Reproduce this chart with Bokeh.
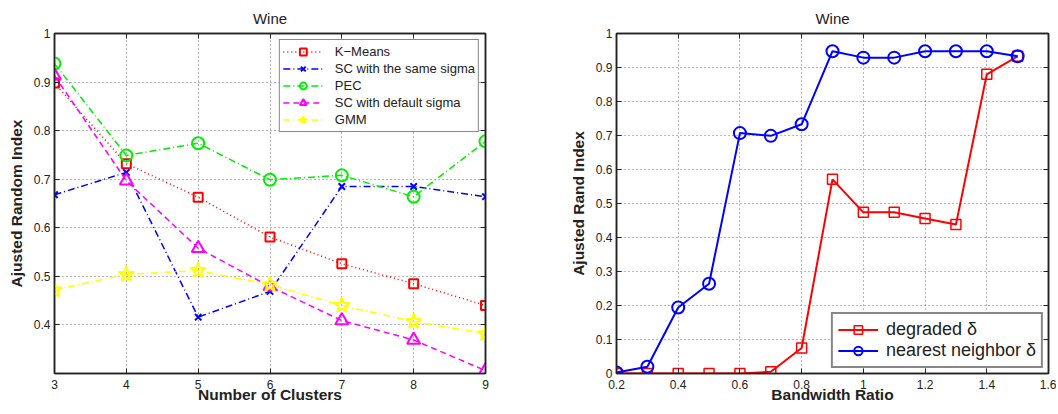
from bokeh.plotting import figure
from bokeh.layouts import row
from bokeh.models import FixedTicker, LinearAxis, Legend, LegendItem, Range1d
from bokeh.embed import file_html
from bokeh.resources import INLINE

# ---------------- data ----------------
clusters = [3, 4, 5, 6, 7, 8, 9]
kmeans = [0.898, 0.732, 0.663, 0.581, 0.526, 0.485, 0.440]
sc_same = [0.668, 0.714, 0.416, 0.469, 0.685, 0.685, 0.664]
pec = [0.938, 0.749, 0.774, 0.699, 0.708, 0.664, 0.778]
sc_default = [0.913, 0.697, 0.558, 0.479, 0.409, 0.369, 0.306]
gmm = [0.472, 0.504, 0.512, 0.483, 0.440, 0.407, 0.382]

bandwidth = [0.2, 0.3, 0.4, 0.5, 0.6, 0.7, 0.8, 0.9, 1.0, 1.1, 1.2, 1.3, 1.4, 1.5]
degraded = [0.0, 0.0, 0.0, 0.0, 0.0, 0.005, 0.075, 0.571, 0.474, 0.474, 0.456, 0.438, 0.880, 0.933]
nearest = [0.003, 0.020, 0.194, 0.264, 0.707, 0.699, 0.733, 0.948, 0.929, 0.929, 0.948, 0.948, 0.948, 0.933]

left_xticks = [3, 4, 5, 6, 7, 8, 9]
left_yticks = [0.4, 0.5, 0.6, 0.7, 0.8, 0.9, 1.0]
right_xticks = [0.2, 0.4, 0.6, 0.8, 1.0, 1.2, 1.4, 1.6]
right_yticks = [0.0, 0.1, 0.2, 0.3, 0.4, 0.5, 0.6, 0.7, 0.8, 0.9, 1.0]
titles = ["Wine", "Wine"]

FONT = "Liberation Sans"
INK = "#222222"


def fmt(v):
    return "%g" % round(v, 4)


def style(p, title, xticks, yticks, xlabel, ylabel):
    p.title.text = title
    p.title.align = "center"
    p.title.vertical_align = "middle"
    p.title.text_font = FONT
    p.title.text_font_style = "normal"
    p.title.text_font_size = "15px"
    p.title.text_color = INK
    p.title.standoff = 12
    p.outline_line_color = INK
    p.outline_line_width = 1.5
    for ax, ticks in ((p.xaxis[0], xticks), (p.yaxis[0], yticks)):
        ax.ticker = FixedTicker(ticks=ticks)
        ax.major_label_overrides = {t: fmt(t) for t in ticks}
        ax.major_label_text_font = FONT
        ax.major_label_text_font_size = "12px"
        ax.major_label_text_color = INK
        ax.major_tick_in = 5
        ax.major_tick_out = 0
        ax.minor_tick_line_color = None
        ax.axis_line_color = INK
        ax.axis_line_width = 1.5
        ax.major_tick_line_color = INK
        ax.axis_label_text_font = FONT
        ax.axis_label_text_font_style = "bold"
        ax.axis_label_text_font_size = "15.5px"
        ax.axis_label_text_color = INK
    p.xaxis[0].axis_label = xlabel
    p.yaxis[0].axis_label = ylabel
    p.xaxis[0].major_label_standoff = 6
    p.yaxis[0].major_label_standoff = 4
    p.xaxis[0].axis_label_standoff = -6
    p.yaxis[0].axis_label_standoff = 6
    for g in (p.xgrid[0], p.ygrid[0]):
        g.grid_line_color = "#777777"
        g.grid_line_dash = "1 3"
        g.grid_line_width = 1
    p.xgrid[0].ticker = FixedTicker(ticks=xticks)
    p.ygrid[0].ticker = FixedTicker(ticks=yticks)
    # tick marks on the opposite sides (closed box), no labels
    for loc, ticks in (("above", xticks), ("right", yticks)):
        a = LinearAxis(ticker=FixedTicker(ticks=ticks), major_label_text_font_size="1px",
                       major_label_text_color=None,
                       major_tick_in=5, major_tick_out=0, minor_tick_line_color=None,
                       axis_line_color=INK, axis_line_width=1.5,
                       major_label_standoff=0, major_tick_line_color=INK)
        p.add_layout(a, loc)


# ---------------- left figure ----------------
p1 = figure(frame_width=431, frame_height=340, min_border_left=54, min_border_right=10,
            min_border_top=33, min_border_bottom=28,
            x_range=Range1d(3, 9), y_range=Range1d(0.3, 1.0),
            output_backend="svg", toolbar_location=None)
style(p1, titles[0], left_xticks, left_yticks, "Number of Clusters", "Ajusted Random Index")

series = [
    ("K\u2212Means", kmeans, "#ff0000", "1 3", "square", 9),
    ("SC with the same sigma", sc_same, "#0000ff", "7 3 1 3", "x", 9),
    ("PEC", pec, "#00ee00", "7 3 1 3", "circle", 12),
    ("SC with default sigma", sc_default, "#ff00ff", "6 4", "triangle", 13),
    ("GMM", gmm, "#ffff00", "7 3 1 3", "star", 16),
]
items = []
for name, ys, col, dash, mk, sz in series:
    r1 = p1.line(clusters, ys, line_color=col, line_dash=dash, line_width=1.5)
    r2 = p1.scatter(clusters, ys, marker=mk, size=sz, line_color=col, fill_color=None, line_width=2)
    items.append(LegendItem(label=name, renderers=[r1, r2]))
leg1 = Legend(items=items, location="top_right", margin=6, padding=3, spacing=0,
              label_text_font=FONT, label_text_font_size="13px", label_text_color=INK,
              glyph_width=40, glyph_height=17, label_height=17, label_standoff=12,
              border_line_color="#111111", border_line_width=1.5, background_fill_alpha=1)
p1.add_layout(leg1, "center")

# ---------------- right figure ----------------
p2 = figure(frame_width=432, frame_height=340, min_border_left=121, min_border_right=8,
            min_border_top=33, min_border_bottom=28,
            x_range=Range1d(0.2, 1.6), y_range=Range1d(0.0, 1.0),
            output_backend="svg", toolbar_location=None)
style(p2, titles[1], right_xticks, right_yticks, "Bandwidth Ratio", "Ajusted Rand Index")

items2 = []
r1 = p2.line(bandwidth, degraded, line_color="#ff0000", line_width=2)
r2 = p2.scatter(bandwidth, degraded, marker="square", size=10, line_color="#ff0000", fill_color=None, line_width=1.5)
items2.append(LegendItem(label="degraded \u03b4", renderers=[r1, r2]))
r3 = p2.line(bandwidth, nearest, line_color="#0000ff", line_width=2)
r4 = p2.scatter(bandwidth, nearest, marker="circle", size=12, line_color="#0000ff", fill_color=None, line_width=2)
items2.append(LegendItem(label="nearest neighbor \u03b4", renderers=[r3, r4]))
leg2 = Legend(items=items2, location="bottom_right", margin=5, padding=5, spacing=0,
              label_text_font=FONT, label_text_font_size="18px", label_text_color=INK,
              glyph_width=40, glyph_height=21, label_height=21, label_standoff=8,
              border_line_color="#111111", border_line_width=2, background_fill_alpha=1)
p2.add_layout(leg2, "center")

layout = row(p1, p2)
open("out.html", "w").write(file_html(layout, INLINE))
